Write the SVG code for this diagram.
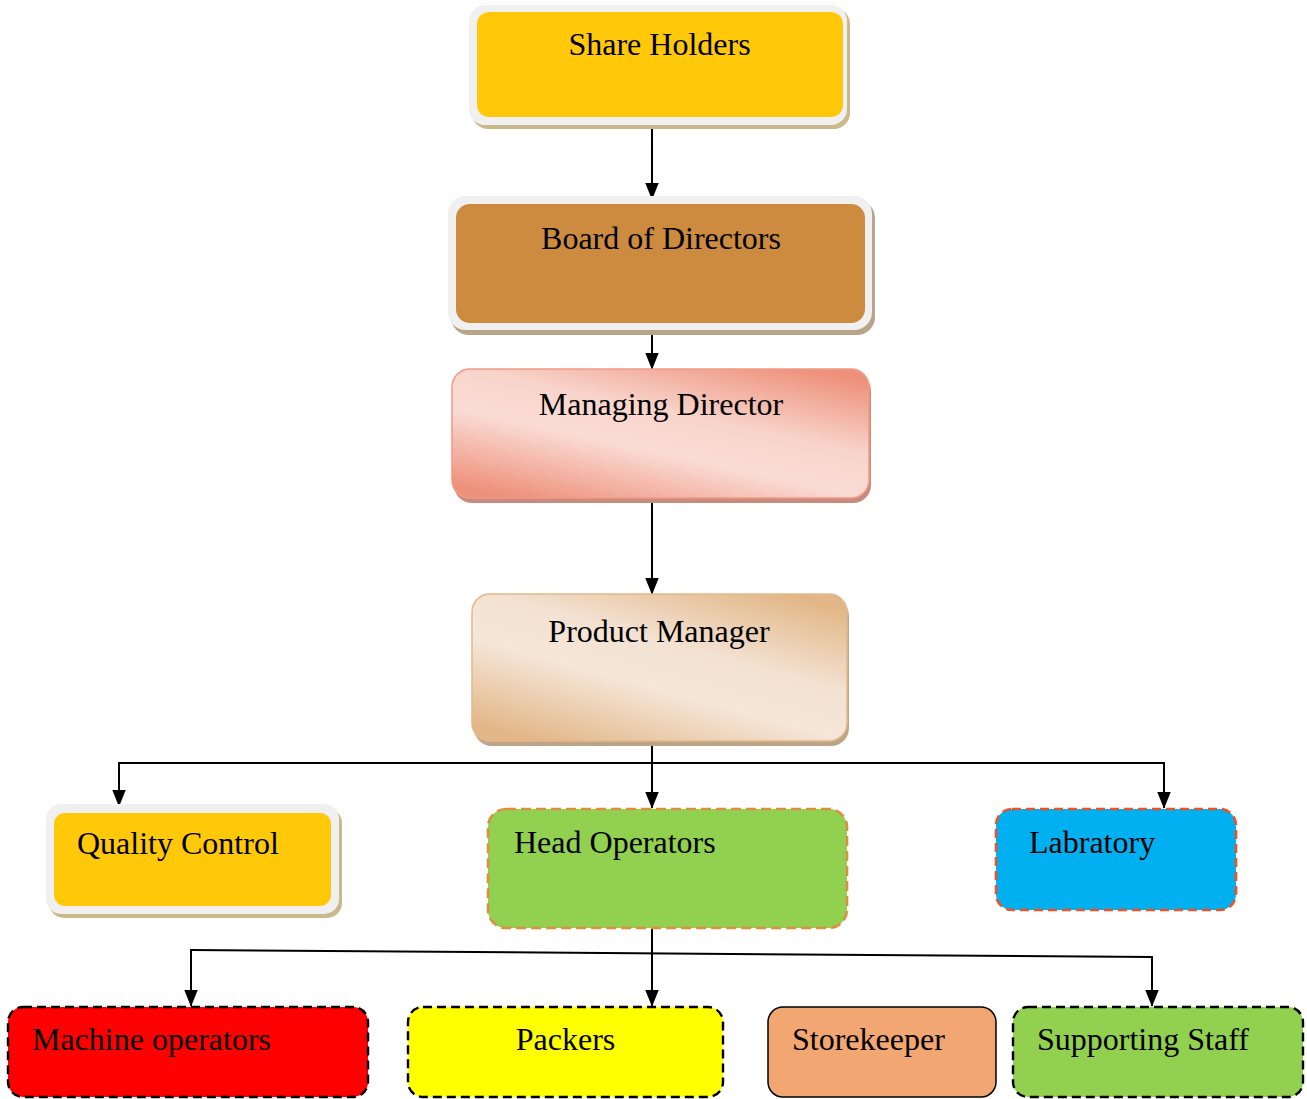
<svg xmlns="http://www.w3.org/2000/svg" width="1307" height="1099" viewBox="0 0 1307 1099">
<style>
text{font-family:"Liberation Serif","Times New Roman",serif;font-size:32px;fill:#000}
.mid{text-anchor:middle}
.frame{fill:#f0f0f0}
.conn{fill:none;stroke:#000;stroke-width:2}
.dashblk{stroke:#000;stroke-width:2.4;stroke-dasharray:9 5}
</style>
<defs>
<marker id="arr" viewBox="0 0 10 10" refX="9.5" refY="5" markerWidth="8.5" markerHeight="8.5" markerUnits="strokeWidth" orient="auto">
<path d="M0,1 L10,5 L0,9 z" fill="#000"/>
</marker>
<linearGradient id="gMD" x1="0.85" y1="0" x2="0.15" y2="1">
<stop offset="0" stop-color="#ee917b"/>
<stop offset="0.38" stop-color="#f8d4cb"/>
<stop offset="0.6" stop-color="#fadcd5"/>
<stop offset="1" stop-color="#ee917b"/>
</linearGradient>
<linearGradient id="gPM" x1="0.85" y1="0" x2="0.15" y2="1">
<stop offset="0" stop-color="#e2b686"/>
<stop offset="0.38" stop-color="#f3e2d2"/>
<stop offset="0.6" stop-color="#f5e6d8"/>
<stop offset="1" stop-color="#e2b686"/>
</linearGradient>
</defs>

<g id="connectors">
<line class="conn" x1="652" y1="122" x2="652" y2="199" marker-end="url(#arr)"/>
<line class="conn" x1="652" y1="328" x2="652" y2="369" marker-end="url(#arr)"/>
<line class="conn" x1="652" y1="499" x2="652" y2="594" marker-end="url(#arr)"/>
<line class="conn" x1="652" y1="743" x2="652" y2="808" marker-end="url(#arr)"/>
<polyline class="conn" points="119,763 1164,763 1164,808" marker-end="url(#arr)"/>
<line class="conn" x1="119" y1="762" x2="119" y2="806" marker-end="url(#arr)"/>
<line class="conn" x1="652" y1="928" x2="652" y2="1006" marker-end="url(#arr)"/>
<polyline class="conn" points="191,950 1152,957 1152,1006" marker-end="url(#arr)"/>
<line class="conn" x1="191" y1="949" x2="191" y2="1006" marker-end="url(#arr)"/>
</g>

<g id="share-holders">
<rect x="472" y="8" width="378" height="121" rx="16" fill="#c9b98b"/>
<rect class="frame" x="469" y="5" width="378" height="120" rx="16"/>
<rect x="477" y="12" width="366" height="105" rx="12" fill="#ffc90a"/>
<text class="mid" x="659.5" y="55">Share Holders</text>
</g>

<g id="board-of-directors">
<rect x="451" y="200" width="424" height="135" rx="18" fill="#b9a48c"/>
<rect class="frame" x="448" y="196" width="424" height="134" rx="18"/>
<rect x="456" y="204" width="409" height="119" rx="14" fill="#cc8b3f"/>
<text class="mid" x="661" y="249">Board of Directors</text>
</g>

<g id="managing-director">
<rect x="454" y="373" width="417" height="130" rx="18" fill="#c88b7e"/>
<rect x="452" y="369" width="417" height="129" rx="18" fill="url(#gMD)" stroke="#f09a86" stroke-width="1.5"/>
<text class="mid" x="661" y="415">Managing Director</text>
</g>

<g id="product-manager">
<rect x="474" y="598" width="375" height="148" rx="18" fill="#bca487"/>
<rect x="472" y="594" width="375" height="147" rx="18" fill="url(#gPM)" stroke="#e3b98c" stroke-width="1.5"/>
<text class="mid" x="659" y="642">Product Manager</text>
</g>

<g id="quality-control">
<rect x="49" y="808" width="293" height="110" rx="15" fill="#c9b98b"/>
<rect class="frame" x="46" y="804" width="293" height="110" rx="15"/>
<rect x="54" y="813" width="277" height="93" rx="11" fill="#ffc90a"/>
<text x="77" y="854">Quality Control</text>
</g>

<g id="head-operators">
<rect x="488" y="809" width="359" height="119" rx="18" fill="#92d050" stroke="#dc8f42" stroke-width="2.6" stroke-dasharray="10 5"/>
<text x="514" y="853">Head Operators</text>
</g>

<g id="labratory">
<rect x="996" y="809" width="240" height="101" rx="16" fill="#00b0f0" stroke="#e8532b" stroke-width="2.6" stroke-dasharray="9 5"/>
<text x="1029" y="853">Labratory</text>
</g>

<g id="machine-operators">
<rect class="dashblk" x="8" y="1007" width="360" height="90" rx="15" fill="#ff0000"/>
<text x="32" y="1050">Machine operators</text>
</g>

<g id="packers">
<rect class="dashblk" x="408" y="1007" width="315" height="90" rx="15" fill="#ffff00"/>
<text class="mid" x="565.5" y="1050">Packers</text>
</g>

<g id="storekeeper">
<rect x="768" y="1007" width="228" height="90" rx="15" fill="#f2a672" stroke="#000" stroke-width="1.5"/>
<text x="792" y="1050">Storekeeper</text>
</g>

<g id="supporting-staff">
<rect class="dashblk" x="1013" y="1007" width="290" height="90" rx="15" fill="#92d050"/>
<text x="1037" y="1050">Supporting Staff</text>
</g>
</svg>
